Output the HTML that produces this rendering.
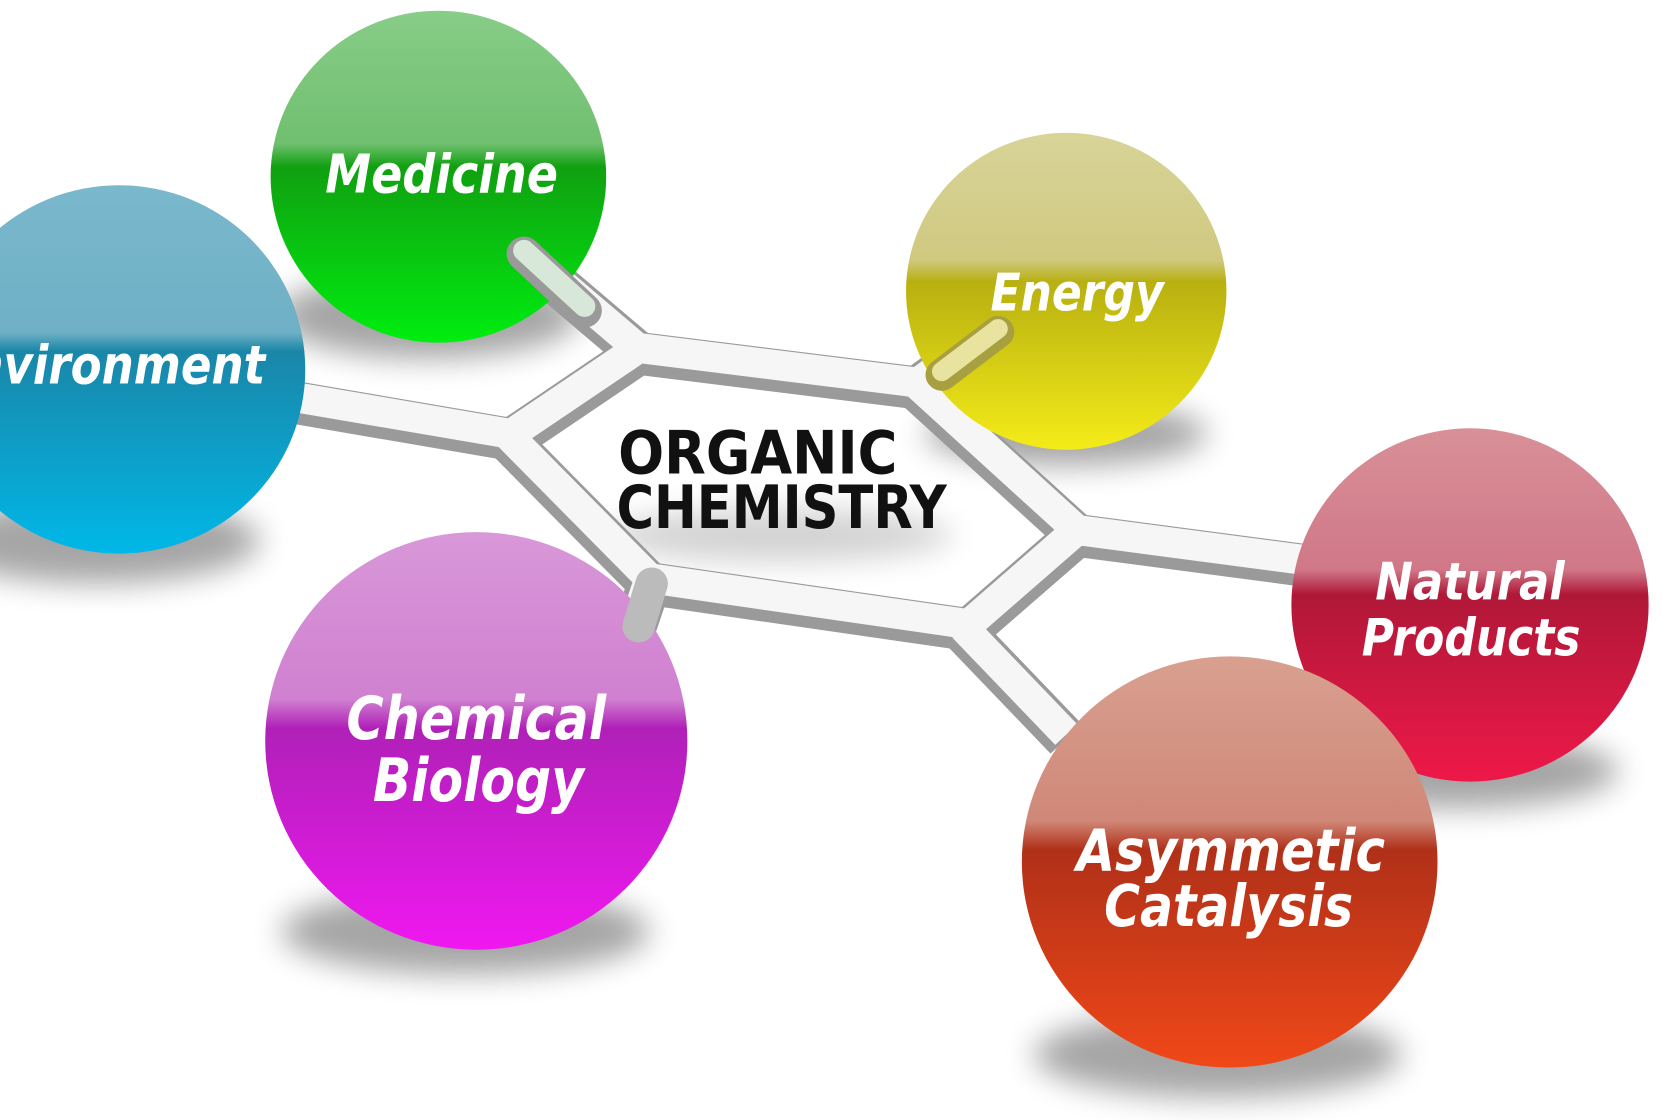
<!DOCTYPE html>
<html><head><meta charset="utf-8"><style>
html,body{margin:0;padding:0;background:#fff;width:1680px;height:1120px;overflow:hidden}
svg{display:block}
text{font-family:"DejaVu Sans Condensed","DejaVu Sans","Liberation Sans",sans-serif}
</style></head><body>
<svg width="1680" height="1120" viewBox="0 0 1552 1046" preserveAspectRatio="none" xmlns="http://www.w3.org/2000/svg">
<defs>
<filter id="sh" x="-50%" y="-50%" width="200%" height="200%"><feGaussianBlur stdDeviation="14"/></filter>
<linearGradient id="gEnv" x1="0" y1="0" x2="0" y2="1"><stop offset="0" stop-color="#7ab8cc"/><stop offset="0.4" stop-color="#6fb0c6"/><stop offset="0.45" stop-color="#1a86a8"/><stop offset="1" stop-color="#00b8e8"/></linearGradient>
<linearGradient id="gMed" x1="0" y1="0" x2="0" y2="1"><stop offset="0" stop-color="#88cc88"/><stop offset="0.4" stop-color="#70c070"/><stop offset="0.47" stop-color="#10a010"/><stop offset="1" stop-color="#00ee10"/></linearGradient>
<linearGradient id="gEne" x1="0" y1="0" x2="0" y2="1"><stop offset="0" stop-color="#d8d498"/><stop offset="0.4" stop-color="#cfc980"/><stop offset="0.47" stop-color="#b8b010"/><stop offset="1" stop-color="#f4ec18"/></linearGradient>
<linearGradient id="gNat" x1="0" y1="0" x2="0" y2="1"><stop offset="0" stop-color="#d89098"/><stop offset="0.4" stop-color="#d07888"/><stop offset="0.47" stop-color="#b01838"/><stop offset="1" stop-color="#ee1848"/></linearGradient>
<linearGradient id="gChe" x1="0" y1="0" x2="0" y2="1"><stop offset="0" stop-color="#d898d8"/><stop offset="0.4" stop-color="#d080d0"/><stop offset="0.47" stop-color="#b020b8"/><stop offset="1" stop-color="#f018f0"/></linearGradient>
<linearGradient id="gCat" x1="0" y1="0" x2="0" y2="1"><stop offset="0" stop-color="#d8a090"/><stop offset="0.4" stop-color="#d08878"/><stop offset="0.47" stop-color="#b03018"/><stop offset="1" stop-color="#f04818"/></linearGradient>
</defs>

<g fill="#000" opacity="0.35" filter="url(#sh)">
<ellipse cx="395" cy="295" rx="140" ry="40"/>
<ellipse cx="90" cy="505" rx="150" ry="40"/>
<ellipse cx="985" cy="405" rx="130" ry="30"/>
<ellipse cx="1345" cy="720" rx="150" ry="35"/>
<ellipse cx="430" cy="870" rx="170" ry="40"/>
<ellipse cx="1125" cy="985" rx="170" ry="40"/>
<ellipse cx="720" cy="500" rx="160" ry="25" opacity="0.5"/>
</g>

<g stroke-linecap="butt" fill="none" stroke-linejoin="round">
<g stroke="#9a9a9a" stroke-width="40">
<line x1="483" y1="238" x2="590" y2="330"/>
<line x1="920" y1="308" x2="850" y2="360"/>
<line x1="250" y1="372" x2="470" y2="410"/>
<line x1="995" y1="500" x2="1205" y2="528"/>
<line x1="600" y1="545" x2="585" y2="590"/>
<line x1="890" y1="590" x2="985" y2="690"/>
<polygon points="590,330 845,362 995,500 895,588 600,545 470,412"/>
</g>
<g stroke="#f6f6f6" stroke-width="28">
<line x1="483" y1="234" x2="590" y2="326"/>
<line x1="920" y1="304" x2="850" y2="356"/>
<line x1="250" y1="367" x2="470" y2="405"/>
<line x1="995" y1="495" x2="1205" y2="523"/>
<line x1="600" y1="541" x2="585" y2="586"/>
<line x1="890" y1="586" x2="985" y2="686"/>
<polygon points="590,325 845,357 995,495 895,583 600,540 470,407"/>
</g>
</g>

<circle cx="110" cy="345" r="172" fill="url(#gEnv)"/>
<circle cx="405" cy="165" r="155" fill="url(#gMed)"/>
<circle cx="985" cy="272" r="148" fill="url(#gEne)"/>
<circle cx="1358" cy="565" r="165" fill="url(#gNat)"/>
<circle cx="440" cy="692" r="195" fill="url(#gChe)"/>
<circle cx="1136" cy="805" r="192" fill="url(#gCat)"/>

<g stroke-linecap="round">
<line x1="484" y1="237" x2="540" y2="290" stroke="#9a9a9a" stroke-width="32"/>
<line x1="484" y1="234" x2="540" y2="286" stroke="#d8e8d8" stroke-width="20"/>
<line x1="922" y1="310" x2="870" y2="350" stroke="#a8a040" stroke-width="30"/>
<line x1="922" y1="307" x2="870" y2="347" stroke="#e8e4a0" stroke-width="18"/>
<line x1="602" y1="545" x2="590" y2="585" stroke="#bbb" stroke-width="30"/>
</g>

<g fill="#fff" font-style="italic" font-weight="bold" text-anchor="middle">
<text x="408" y="180" font-size="50" textLength="215" lengthAdjust="spacingAndGlyphs">Medicine</text>
<text x="95" y="358" font-size="50" textLength="300" lengthAdjust="spacingAndGlyphs">Environment</text>
<text x="995" y="290" font-size="48" textLength="160" lengthAdjust="spacingAndGlyphs">Energy</text>
<text x="1358" y="560" font-size="48" textLength="175" lengthAdjust="spacingAndGlyphs">Natural</text>
<text x="1359" y="612" font-size="48" textLength="202" lengthAdjust="spacingAndGlyphs">Products</text>
<text x="440" y="690" font-size="56" textLength="240" lengthAdjust="spacingAndGlyphs">Chemical</text>
<text x="442" y="748" font-size="56" textLength="195" lengthAdjust="spacingAndGlyphs">Biology</text>
<text x="1137" y="813" font-size="54" textLength="285" lengthAdjust="spacingAndGlyphs">Asymmetic</text>
<text x="1135" y="865" font-size="54" textLength="230" lengthAdjust="spacingAndGlyphs">Catalysis</text>
</g>
<g fill="#111" text-anchor="middle" font-size="56" font-weight="bold">
<text x="700" y="442" textLength="258" lengthAdjust="spacingAndGlyphs">ORGANIC</text>
<text x="722" y="493" textLength="305" lengthAdjust="spacingAndGlyphs">CHEMISTRY</text>
</g>
</svg>
</body></html>
